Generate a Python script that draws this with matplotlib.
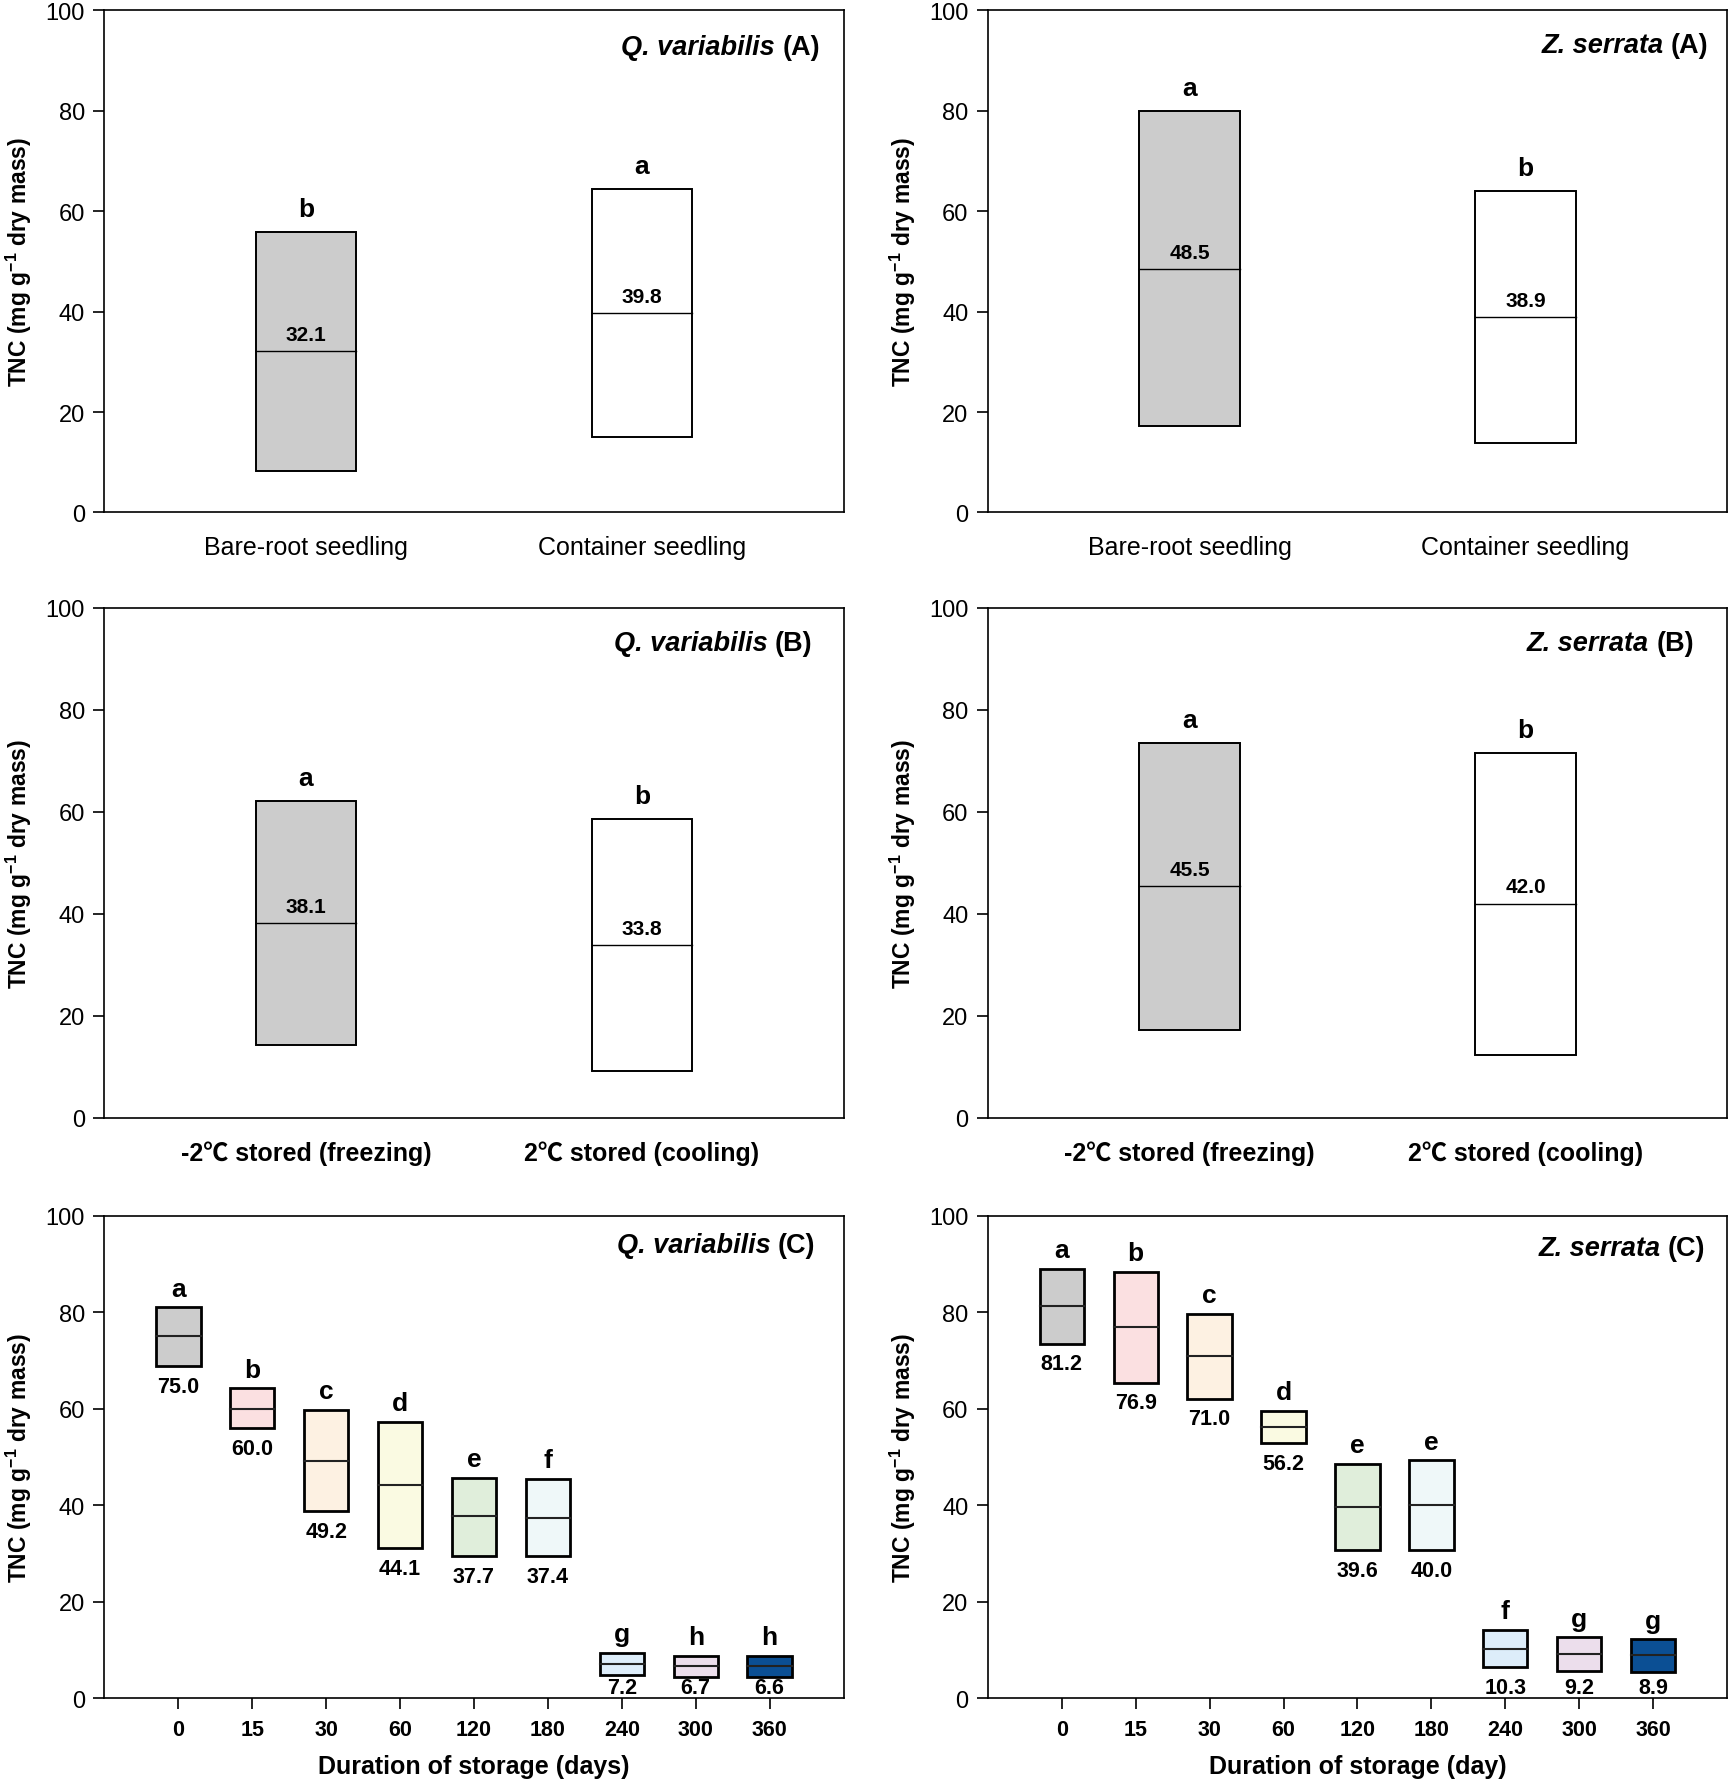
import matplotlib
matplotlib.use('Agg')
import matplotlib.pyplot as plt
from matplotlib.patches import Rectangle

plt.rcParams['font.family'] = ['Liberation Sans', 'Noto Sans CJK SC', 'DejaVu Sans']
plt.rcParams['mathtext.fontset'] = 'custom'
plt.rcParams['mathtext.rm'] = 'Liberation Sans'
plt.rcParams['mathtext.bf'] = 'Liberation Sans:bold'

# ---- data (min, median, max) ----
# Row A: seedling type
seedling_labels = ['Bare-root seedling', 'Container seedling']
qv_a_low = [8.3, 15.1]
qv_a_med = [32.1, 39.8]
qv_a_high = [55.9, 64.5]
qv_a_letters = ['b', 'a']
zs_a_low = [17.2, 13.8]
zs_a_med = [48.5, 38.9]
zs_a_high = [79.9, 64.1]
zs_a_letters = ['a', 'b']

# Row B: storage temperature
storage_labels = ['-2\u2103 stored (freezing)', '2\u2103 stored (cooling)']
qv_b_low = [14.2, 9.1]
qv_b_med = [38.1, 33.8]
qv_b_high = [62.1, 58.6]
qv_b_letters = ['a', 'b']
zs_b_low = [17.3, 12.4]
zs_b_med = [45.5, 42.0]
zs_b_high = [73.5, 71.5]
zs_b_letters = ['a', 'b']

# Row C: storage duration
days = ['0', '15', '30', '60', '120', '180', '240', '300', '360']
day_colors = ['#cccccc', '#fbe0e1', '#fdf1e2', '#fafae2', '#e0eedb',
              '#eff8f9', '#ddedfa', '#ecdeec', '#0b4f94']
qv_c_low = [68.8, 55.9, 38.8, 31.1, 29.5, 29.4, 4.9, 4.4, 4.3]
qv_c_med = [75.0, 60.0, 49.2, 44.1, 37.7, 37.4, 7.2, 6.7, 6.6]
qv_c_high = [81.0, 64.2, 59.7, 57.2, 45.7, 45.4, 9.4, 8.8, 8.8]
qv_c_letters = ['a', 'b', 'c', 'd', 'e', 'f', 'g', 'h', 'h']
zs_c_low = [73.5, 65.4, 62.1, 52.8, 30.7, 30.7, 6.4, 5.7, 5.5]
zs_c_med = [81.2, 76.9, 71.0, 56.2, 39.6, 40.0, 10.3, 9.2, 8.9]
zs_c_high = [88.9, 88.4, 79.6, 59.5, 48.5, 49.3, 14.2, 12.6, 12.2]
zs_c_letters = ['a', 'b', 'c', 'd', 'e', 'e', 'f', 'g', 'g']

fig = plt.figure(figsize=(17.35, 17.81), dpi=100)

left_x, right_x, w = 0.0602, 0.5694, 0.426
rows = [(0.7117, 0.2819), (0.3718, 0.2864), (0.0459, 0.2710)]

ylabel = 'TNC (mg g$^{\\mathbf{-1}}$ dry mass)'


def style_y(ax):
    ax.set_ylim(0, 100)
    ax.set_yticks([0, 20, 40, 60, 80, 100])
    ax.tick_params(axis='y', direction='out', length=8, width=1.2,
                   labelsize=17, pad=6)
    ax.set_ylabel(ylabel, fontsize=16.5, fontweight='bold')
    ax.yaxis.set_label_coords(-0.095, 0.5)
    for s in ax.spines.values():
        s.set_linewidth(1.2)


def title(ax, species, tag, x, y):
    t = ax.text(x, y, tag, transform=ax.transAxes, ha='right', va='center',
                fontsize=19.5, fontweight='bold')
    ax.annotate(species + ' ', xy=(0, 0), xycoords=t, ha='right', va='bottom',
                fontsize=19.5, fontweight='bold', fontstyle='italic')


def two_group(ax, low, med, high, letters, labels, bold_ticks):
    pos = [1, 2]
    colors = ['#cccccc', 'white']
    for i in range(2):
        ax.add_patch(Rectangle((pos[i] - 0.15, low[i]), 0.30, high[i] - low[i],
                               facecolor=colors[i], edgecolor='black', lw=1.4))
        ax.plot([pos[i] - 0.15, pos[i] + 0.15], [med[i], med[i]], color='black', lw=1.0)
        ax.text(pos[i], med[i] + 1.4, f'{med[i]:.1f}', ha='center', va='bottom',
                fontsize=15, fontweight='bold')
        ax.text(pos[i], high[i] + 2.2, letters[i], ha='center', va='bottom',
                fontsize=19, fontweight='bold')
    ax.set_xlim(0.4, 2.6)
    ax.set_xticks(pos)
    ax.set_xticklabels(labels, fontsize=18, fontweight='bold' if bold_ticks else 'normal')
    ax.tick_params(axis='x', length=0, pad=16)
    style_y(ax)


def duration(ax, low, med, high, letters, xlabel):
    pos = list(range(len(days)))
    for i in pos:
        ax.add_patch(Rectangle((pos[i] - 0.3, low[i]), 0.6, high[i] - low[i],
                               facecolor=day_colors[i], edgecolor='black', lw=2.0))
        ax.plot([pos[i] - 0.3, pos[i] + 0.3], [med[i], med[i]], color='#222222', lw=1.5)
        # keep the value label above the x axis for the low boxes
        ax.text(pos[i], max(low[i] - 2.0, 4.4), f'{med[i]:.1f}', ha='center', va='top',
                fontsize=15.5, fontweight='bold')
        ax.text(pos[i], high[i] + 1.4, letters[i], ha='center', va='bottom',
                fontsize=19, fontweight='bold')
    ax.set_xlim(-1, 9)
    ax.set_xticks(pos)
    ax.set_xticklabels(days, fontsize=15.5, fontweight='bold')
    ax.tick_params(axis='x', direction='out', length=8, width=1.2, pad=7)
    ax.set_xlabel(xlabel, fontsize=18, fontweight='bold', labelpad=10)
    style_y(ax)


ax1 = fig.add_axes([left_x, rows[0][0], w, rows[0][1]])
two_group(ax1, qv_a_low, qv_a_med, qv_a_high, qv_a_letters, seedling_labels, False)
title(ax1, 'Q. variabilis', '(A)', 0.968, 0.928)

ax2 = fig.add_axes([right_x, rows[0][0], w, rows[0][1]])
two_group(ax2, zs_a_low, zs_a_med, zs_a_high, zs_a_letters, seedling_labels, False)
title(ax2, 'Z. serrata', '(A)', 0.975, 0.932)

ax3 = fig.add_axes([left_x, rows[1][0], w, rows[1][1]])
two_group(ax3, qv_b_low, qv_b_med, qv_b_high, qv_b_letters, storage_labels, True)
title(ax3, 'Q. variabilis', '(B)', 0.958, 0.931)

ax4 = fig.add_axes([right_x, rows[1][0], w, rows[1][1]])
two_group(ax4, zs_b_low, zs_b_med, zs_b_high, zs_b_letters, storage_labels, True)
title(ax4, 'Z. serrata', '(B)', 0.955, 0.930)

ax5 = fig.add_axes([left_x, rows[2][0], w, rows[2][1]])
duration(ax5, qv_c_low, qv_c_med, qv_c_high, qv_c_letters, 'Duration of storage (days)')
title(ax5, 'Q. variabilis', '(C)', 0.962, 0.939)

ax6 = fig.add_axes([right_x, rows[2][0], w, rows[2][1]])
duration(ax6, zs_c_low, zs_c_med, zs_c_high, zs_c_letters, 'Duration of storage (day)')
title(ax6, 'Z. serrata', '(C)', 0.971, 0.932)

fig.savefig('out.png', dpi=100)
